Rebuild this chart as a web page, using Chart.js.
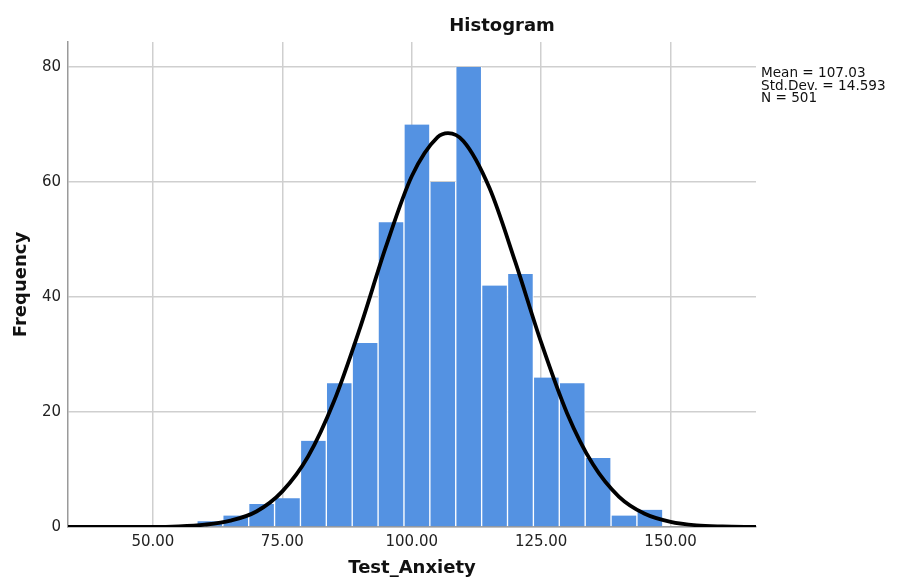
<!DOCTYPE html>
<html>
<head>
<meta charset="utf-8">
<script src="https://cdn.jsdelivr.net/npm/chart.js@4/dist/chart.umd.min.js"></script>
<style>
    html, body { margin: 0; padding: 0; background: #fff; }
    canvas { display: block; }
</style>
</head>
<body>
<canvas id="histChart" width="899" height="581"></canvas>
<script>
// histogram bins (5 wide, centre values) and counts
const binCenters = [61, 66, 71, 76, 81, 86, 91, 96, 101, 106, 111, 116, 121, 126, 131, 136, 141, 146];
const frequencies = [1, 2, 4, 5, 15, 25, 32, 53, 70, 60, 80, 42, 44, 26, 25, 12, 2, 3];

// normal curve, points
const curveX = [33.6, 40, 45, 50, 55, 60, 65, 70, 75, 80, 85, 90, 95, 100, 105, 107, 110, 115, 120, 125, 130, 135, 140, 145, 150, 155, 160, 166.5];
const curveY = [0, 0, 0, 0, 0.1, 0.4, 1.1, 2.7, 6.2, 12.3, 21.9, 34.6, 48.7, 61.0, 67.8, 68.5, 67.1, 59.0, 46.1, 32.1, 19.8, 10.9, 5.3, 2.3, 0.9, 0.3, 0.1, 0];

const xTicks = [50, 75, 100, 125, 150];
const yTicks = [0, 20, 40, 60, 80];
const statLines = ['Mean = 107.03', 'Std.Dev. = 14.593', 'N = 501'];

const fontFamily = '"DejaVu Sans", Arial, sans-serif';

// title and the stats box on the right
const textPlugin = {
    id: 'textPlugin',
    afterDraw(chart) {
        const ctx = chart.ctx;
        ctx.save();
        ctx.fillStyle = '#111';
        ctx.font = 'bold 18px ' + fontFamily;
        ctx.textAlign = 'center';
        ctx.textBaseline = 'alphabetic';
        ctx.fillText('Histogram', 502, 31);

        ctx.font = '13.6px ' + fontFamily;
        ctx.textAlign = 'left';
        statLines.forEach(function(line, i) {
            ctx.fillText(line, 761, 77 + i * 12.5);
        });
        ctx.restore();
    }
};

const ctx = document.getElementById('histChart').getContext('2d');

const histChart = new Chart(ctx, {
    type: 'bar',
    data: {
        datasets: [{
            type: 'line',
            label: 'Normal',
            data: curveX.map(function(x, i) { return {x: x, y: curveY[i]}; }),
            borderColor: '#000',
            borderWidth: 3.8,
            pointRadius: 0,
            cubicInterpolationMode: 'monotone',
            fill: false,
            order: 0
        }, {
            label: 'Frequency',
            data: binCenters.map(function(x, i) { return {x: x, y: frequencies[i]}; }),
            backgroundColor: 'rgb(84, 146, 226)',
            borderColor: '#fff',
            borderWidth: {left: 1, right: 1, top: 0, bottom: 0},
            borderSkipped: false,
            barPercentage: 1,
            categoryPercentage: 1,
            order: 1
        }]
    },
    options: {
        responsive: false,
        animation: false,
        layout: {
            padding: {left: 0, right: 143, top: 42, bottom: 0}
        },
        plugins: {
            legend: {display: false},
            tooltip: {enabled: false}
        },
        scales: {
            x: {
                type: 'linear',
                min: 33.6,
                max: 166.5,
                offset: false,
                afterBuildTicks: function(scale) {
                    scale.ticks = xTicks.map(function(v) { return {value: v}; });
                },
                afterFit: function(scale) {
                    scale.height = 54;
                },
                ticks: {
                    padding: 6,
                    maxRotation: 0,
                    color: '#222',
                    font: {family: fontFamily, size: 15},
                    callback: function(v) { return Number(v).toFixed(2); }
                },
                grid: {
                    offset: false,
                    color: '#cfcfcf',
                    lineWidth: 1.5,
                    drawTicks: false
                },
                border: {color: '#9a9a9a', width: 1.5},
                title: {
                    display: true,
                    text: 'Test_Anxiety',
                    color: '#111',
                    font: {family: fontFamily, size: 18, weight: 'bold'},
                    padding: {top: 0, bottom: 2}
                }
            },
            y: {
                min: 0,
                max: 84.35,
                afterBuildTicks: function(scale) {
                    scale.ticks = yTicks.map(function(v) { return {value: v}; });
                },
                afterFit: function(scale) {
                    scale.width = 68;
                },
                ticks: {
                    padding: 7,
                    color: '#222',
                    font: {family: fontFamily, size: 15}
                },
                grid: {
                    color: '#cfcfcf',
                    lineWidth: 1.5,
                    drawTicks: false
                },
                border: {color: '#9a9a9a', width: 1.5},
                title: {
                    display: true,
                    text: 'Frequency',
                    color: '#111',
                    font: {family: fontFamily, size: 18, weight: 'bold'},
                    padding: {top: 11, bottom: 0}
                }
            }
        }
    },
    plugins: [textPlugin]
});
</script>
</body>
</html>
